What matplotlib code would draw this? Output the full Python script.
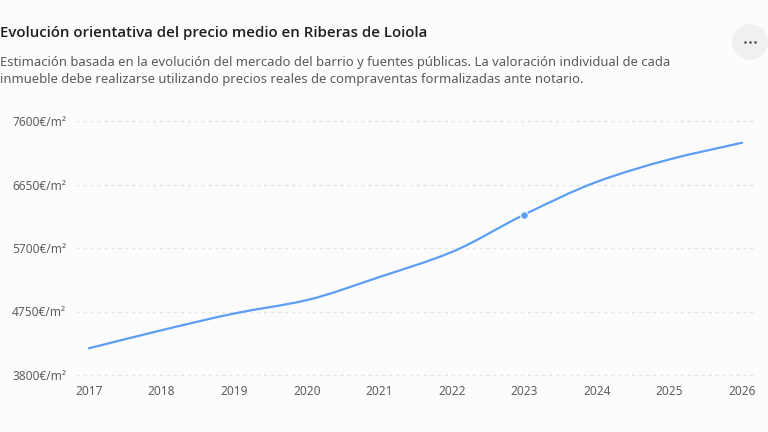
import numpy as np
import matplotlib.pyplot as plt
import matplotlib as mpl
from matplotlib.path import Path
from matplotlib import patches
from matplotlib.lines import Line2D

mpl.rcParams['font.family'] = ['Noto Sans', 'DejaVu Sans']

# data
years = [2017, 2018, 2019, 2020, 2021, 2022, 2023, 2024, 2025, 2026]
prices = [4200, 4470, 4720, 4920, 5265, 5640, 6200, 6690, 7025, 7275]
y_ticks = [3800, 4750, 5700, 6650, 7600]
highlight_year = 2023

title = 'Evolución orientativa del precio medio en Riberas de Loiola'
subtitle = ('Estimación basada en la evolución del mercado del barrio y fuentes públicas. '
            'La valoración individual de cada\ninmueble debe realizarse utilizando precios '
            'reales de compraventas formalizadas ante notario.')

line_color = '#5b9ef4'
bg = '#fcfcfc'


def smooth_path(x, y):
    # monotone cubic (Fritsch-Carlson) tangents, drawn as bezier segments
    x = np.asarray(x, float)
    y = np.asarray(y, float)
    h = np.diff(x)
    d = np.diff(y) / h
    m = np.zeros_like(y)
    m[0], m[-1] = d[0], d[-1]
    for i in range(1, len(x) - 1):
        if d[i - 1] * d[i] > 0:
            m[i] = 2.0 / (1.0 / d[i - 1] + 1.0 / d[i])
    verts = [(x[0], y[0])]
    codes = [Path.MOVETO]
    for i in range(len(x) - 1):
        verts += [(x[i] + h[i] / 3, y[i] + m[i] * h[i] / 3),
                  (x[i + 1] - h[i] / 3, y[i + 1] - m[i + 1] * h[i] / 3),
                  (x[i + 1], y[i + 1])]
        codes += [Path.CURVE4] * 3
    return Path(verts, codes)


fig = plt.figure(figsize=(7.68, 4.32), dpi=100, facecolor=bg)
ax = fig.add_axes([76 / 768, 1 - 375 / 432, (755 - 76) / 768, (375 - 121) / 432])
ax.set_facecolor(bg)

ax.set_xlim(2016.82, 2026.18)
ax.set_ylim(y_ticks[0], y_ticks[-1])
for v in y_ticks:
    ax.axhline(v, color='#e6e6e6', lw=1, ls=(0, (2.5, 2.5)), zorder=0, clip_on=False)

ax.add_patch(patches.PathPatch(smooth_path(years, prices), fc='none', ec=line_color,
                               lw=1.6, capstyle='round', zorder=3))
hi = years.index(highlight_year)
ax.plot(years[hi], prices[hi], 'o', ms=5.5, color=line_color, mec=bg, mew=0.8, zorder=4)

ax.set_xticks(years)
ax.set_xticklabels([str(y) for y in years])
ax.set_yticks(y_ticks)
ax.set_yticklabels(['%d€/m²' % v for v in y_ticks])
ax.tick_params(length=0, colors='#5f5f5f', labelsize=8.6)
ax.tick_params(axis='x', pad=7)
ax.tick_params(axis='y', pad=7)
for s in ax.spines.values():
    s.set_visible(False)

fig.text(0 / 768, 1 - 33 / 432, title, fontsize=10.8, fontweight='semibold',
         family=['Open Sans', 'DejaVu Sans'], color='#1f1f1f', va='center', ha='left')
fig.text(0 / 768, 1 - 71 / 432, subtitle, fontsize=9.4, color='#5a5a5a',
         va='center', ha='left', linespacing=1.45)

# the "..." menu button
fig.patches.append(patches.Ellipse((750 / 768, 1 - 42 / 432), 36 / 768, 36 / 432,
                                   transform=fig.transFigure, fc='#f0f0f0', ec='none'))
fig.add_artist(Line2D([745 / 768, 750 / 768, 755 / 768], [1 - 42 / 432] * 3,
                      transform=fig.transFigure, ls='none', marker='o', ms=1.9,
                      color='#555555', mew=0))

fig.savefig('out.png', dpi=100, facecolor=bg)
